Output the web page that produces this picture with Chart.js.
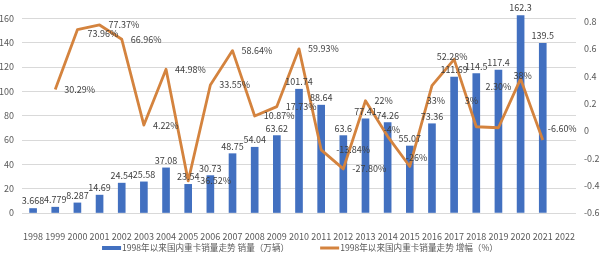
<!DOCTYPE html>
<html>
<head>
<meta charset="utf-8">
<script src="https://cdn.jsdelivr.net/npm/chart.js@4"></script>
<style>
  html, body { margin: 0; padding: 0; background: #fff; overflow: hidden; }
  #wrap { position: relative; width: 600px; height: 280px; top: -20px; }
</style>
</head>
<body>
<div id="wrap"><canvas id="chart" width="600" height="280"></canvas></div>
<script>
const years = ["1998", "1999", "2000", "2001", "2002", "2003", "2004", "2005", "2006", "2007", "2008", "2009",
  "2010", "2011", "2012", "2013", "2014", "2015", "2016", "2017", "2018", "2019", "2020", "2021", "2022"];

// 销量（万辆）
const sales = [3.668, 4.779, 8.287, 14.69, 24.54, 25.58, 37.08, 23.54, 30.73, 48.75, 54.04, 63.62,
  101.74, 88.64, 63.6, 77.41, 74.26, 55.07, 73.36, 111.69, 114.5, 117.4, 162.3, 139.5, null];

// 增幅
const growth = [null, 0.3029, 0.7396, 0.7737, 0.6696, 0.0422, 0.4498, -0.3652, 0.3355, 0.5864, 0.1087, 0.1773,
  0.5993, -0.1384, -0.2780, 0.22, -0.04, -0.26, 0.33, 0.5228, 0.03, 0.023, 0.38, -0.066, null];
const growthText = ["", "30.29%", "73.96%", "77.37%", "66.96%", "4.22%", "44.98%", "-36.52%", "33.55%", "58.64%", "10.87%", "17.73%",
  "59.93%", "-13.84%", "-27.80%", "22%", "-4%", "-26%", "33%", "52.28%", "3%", "2.30%", "38%", "-6.60%", ""];

const salesLabel = "1998年以来国内重卡销量走势 销量（万辆）";
const growthLabel = "1998年以来国内重卡销量走势 增幅（%）";

const BLUE = "#4270c0";
const ORANGE = "#d4833e";
const FONT = '"Noto Sans CJK SC", "Liberation Sans", sans-serif';

// labels that were dragged around in the original
const nudge = {
  "2000": { dx: 10, dy: 4 },
  "2011": { dx: 15, dy: 0 },
  "2014": { dx: -4, dy: -7 },
  "2015": { dx: -4, dy: -9 },
  "2016": { dx: 4, dy: 15, align: "center" },
  "2017": { dx: -2, dy: -3, align: "center" },
  "2018": { dx: -5, dy: -26, align: "center" },
  "2019": { dx: 0, dy: -41, align: "center" },
  "2020": { dx: 2, dy: -3, align: "center" },
  "2021": { dx: 5, dy: -11 }
};

const dataLabels = {
  id: "dataLabels",
  afterDatasetsDraw(chart) {
    const ctx = chart.ctx;
    ctx.save();
    ctx.font = "9px " + FONT;
    ctx.fillStyle = "#404040";

    // bar values, above the bar
    ctx.textAlign = "center";
    ctx.textBaseline = "bottom";
    chart.getDatasetMeta(0).data.forEach((el, i) => {
      if (sales[i] == null) return;
      ctx.fillText(String(sales[i]), el.x, el.y - 3);
    });

    // growth, right of the point
    ctx.textBaseline = "middle";
    chart.getDatasetMeta(1).data.forEach((el, i) => {
      if (growth[i] == null) return;
      const n = nudge[years[i]] || { dx: 9, dy: 0 };
      ctx.textAlign = n.align || "left";
      ctx.fillText(growthText[i], el.x + n.dx, el.y + n.dy);
    });
    ctx.restore();
  }
};

const bottomLegend = {
  id: "bottomLegend",
  afterDraw(chart) {
    const ctx = chart.ctx;
    ctx.save();
    ctx.font = "8.6px " + FONT;
    ctx.textBaseline = "middle";
    ctx.textAlign = "left";
    const y = 268;
    const boxW = 19, gapText = 1, gapItem = 31;
    const ds = chart.data.datasets;
    const widths = ds.map(d => boxW + gapText + ctx.measureText(d.label).width);
    let x = 300 - (widths[0] + widths[1] + gapItem) / 2;
    ds.forEach((d, i) => {
      if (d.type === "line") {
        ctx.strokeStyle = d.borderColor;
        ctx.lineWidth = 3;
        ctx.beginPath();
        ctx.moveTo(x, y);
        ctx.lineTo(x + boxW, y);
        ctx.stroke();
      } else {
        ctx.fillStyle = d.backgroundColor;
        ctx.fillRect(x, y - 2, boxW, 4);
      }
      ctx.fillStyle = "#595959";
      ctx.fillText(d.label, x + boxW + gapText, y);
      x += widths[i] + gapItem;
    });
    ctx.restore();
  }
};

new Chart(document.getElementById("chart"), {
  data: {
    labels: years,
    datasets: [
      {
        type: "bar",
        label: salesLabel,
        data: sales,
        backgroundColor: BLUE,
        barThickness: 7,
        yAxisID: "y",
        order: 1
      },
      {
        type: "line",
        label: growthLabel,
        data: growth,
        borderColor: ORANGE,
        backgroundColor: ORANGE,
        borderWidth: 2.8,
        borderJoinStyle: "round",
        pointRadius: 0,
        tension: 0,
        yAxisID: "y1",
        order: 0
      }
    ]
  },
  options: {
    responsive: false,
    animation: false,
    devicePixelRatio: 1,
    layout: { padding: { top: 14, left: 0, right: 0, bottom: 0 } },
    plugins: {
      legend: { display: false },
      tooltip: { enabled: false }
    },
    scales: {
      x: {
        grid: { display: false },
        border: { display: false },
        ticks: { color: "#595959", font: { family: FONT, size: 9 }, padding: 10, maxRotation: 0, autoSkip: false },
        afterFit(s) { s.height = 47; }
      },
      y: {
        position: "left",
        min: 0,
        max: 180,
        ticks: { stepSize: 20, color: "#595959", font: { family: FONT, size: 9 }, padding: 8 },
        grid: { color: "#d9d9d9", drawTicks: false },
        border: { display: false },
        afterFit(s) { s.width = 22; }
      },
      y1: {
        position: "right",
        min: -0.6,
        max: 1.0,
        ticks: {
          stepSize: 0.2,
          color: "#595959",
          font: { family: FONT, size: 9 },
          padding: 8,
          callback: v => String(Math.round(v * 10) / 10)
        },
        grid: { drawOnChartArea: false, drawTicks: false },
        border: { display: false },
        afterFit(s) { s.width = 24; }
      }
    }
  },
  plugins: [dataLabels, bottomLegend]
});
</script>
</body>
</html>
